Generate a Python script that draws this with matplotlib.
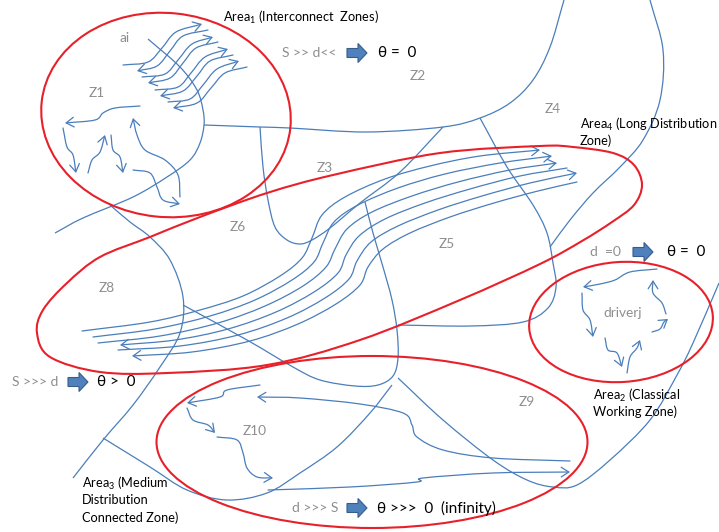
from matplotlib import pyplot as plt
from matplotlib.path import Path
from matplotlib.patches import PathPatch, FancyArrowPatch, Ellipse, FancyArrow
import numpy as np

# =============================================================================
# Diagram data (pixel coordinates of the 719x532 picture, y downwards)
# =============================================================================
BLUE = '#4a7ebb'
RED = '#e8202a'
GREY = '#8e8e8e'

# red zone outlines: centre, width, height, angle
ellipses = {
    'area1': ((166, 115), 250, 204, 6),
    'area2': ((621, 322), 184, 120, -4),
    'area3': ((372, 442), 431, 172, 0),
}
area4_outline = [(37, 333), (43, 310), (67, 283), (100, 257), (150, 237), (200, 217),
                 (267, 193), (333, 175), (440, 153), (540, 146), (573, 147), (613, 153),
                 (634, 165), (642, 185), (634, 205), (612, 222), (582, 241), (540, 264),
                 (460, 300), (360, 340), (267, 365), (167, 373), (100, 372), (50, 357)]

# zone borders (no arrow heads)
borders = [
    [(148, 39), (180, 67), (197, 90), (203, 110), (204, 125), (200, 143), (190, 160),
     (167, 177), (133, 197), (83, 218), (55, 233)],
    [(204, 125), (260, 127), (290, 128), (367, 132), (443, 127), (480, 118), (510, 103),
     (533, 80), (550, 47), (564, 0)],
    [(260, 127), (263, 167), (268, 200), (275, 227), (287, 240), (300, 244), (312, 240),
     (330, 228), (360, 203), (400, 172), (443, 127)],
    [(365, 202), (373, 233), (383, 267), (392, 300), (397, 330), (398, 358), (393, 376),
     (378, 385), (355, 386), (320, 380), (293, 367), (247, 340), (183, 305)],
    [(480, 118), (507, 167), (533, 205), (547, 233), (553, 263), (556, 287), (548, 308),
     (523, 322), (470, 326), (398, 325)],
    [(650, 0), (663, 50), (660, 100), (643, 140), (620, 167), (593, 193), (570, 220),
     (550, 247)],
    [(398, 378), (443, 420), (493, 460), (527, 480), (553, 487), (577, 485), (610, 460),
     (650, 420), (677, 375), (693, 343), (719, 283)],
    [(392, 385), (370, 413), (337, 447), (300, 473), (267, 493), (227, 500), (187, 490),
     (150, 467), (103, 438)],
    [(110, 205), (130, 222), (150, 237), (170, 260), (183, 297), (180, 333), (160, 367),
     (133, 405), (103, 440), (73, 478)],
]

# flow bundle through Area4 (left to right)
bundle = [
    [(82, 331), (150, 322), (200, 310), (243, 296), (280, 276), (302, 258), (312, 238),
     (322, 215), (345, 197), (385, 179), (430, 166), (480, 156), (540, 150)],
    [(93, 337), (155, 329), (210, 316), (255, 300), (292, 280), (314, 262), (323, 243),
     (334, 222), (358, 205), (398, 188), (445, 174), (500, 163), (552, 156)],
    [(98, 343), (160, 336), (218, 323), (265, 306), (303, 286), (326, 267), (335, 249),
     (347, 229), (372, 212), (412, 196), (458, 182), (510, 170), (557, 163)],
    [(120, 345), (175, 340), (228, 329), (276, 312), (314, 292), (338, 273), (346, 255),
     (359, 236), (385, 219), (425, 203), (470, 189), (520, 176), (567, 168)],
    [(118, 350), (180, 346), (238, 335), (287, 318), (325, 298), (349, 279), (357, 261),
     (371, 242), (398, 226), (438, 210), (482, 196), (530, 183), (577, 173)],
    [(132, 356), (192, 352), (250, 341), (298, 324), (336, 304), (360, 285), (368, 267),
     (383, 249), (410, 233), (450, 217), (494, 203), (538, 191), (577, 182)],
]
bundle_left_arrow = [False, False, False, True, False, True]
bundle_right_arrow = [True, True, True, False, True, False]

# small flow arrows (arrow head at the last point)
flows = [
    # Area1 waves
    [(123, 65), (148, 62), (162, 48), (176, 32), (202, 24)],
    [(208, 30), (183, 36), (170, 51), (157, 66), (137, 71)],
    [(142, 77), (165, 74), (178, 60), (192, 44), (213, 37)],
    [(218, 42), (196, 48), (183, 63), (170, 78), (148, 83)],
    [(155, 90), (178, 87), (191, 73), (205, 57), (228, 49)],
    [(233, 55), (210, 61), (197, 76), (183, 91), (160, 96)],
    [(168, 102), (190, 99), (203, 85), (217, 69), (239, 61)],
    [(247, 67), (225, 73), (211, 88), (197, 103), (173, 108)],
    # Area1 loop
    [(140, 106), (115, 108), (103, 113), (95, 120), (65, 123)],
    [(63, 128), (67, 147), (73, 155), (76, 173)],
    [(88, 173), (92, 160), (100, 152), (105, 135)],
    [(111, 135), (113, 150), (120, 157), (123, 173)],
    [(180, 197), (178, 175), (165, 160), (145, 150), (137, 135), (133, 118)],
    [(133, 170), (150, 173), (157, 187), (163, 200), (180, 204)],
    # Area2 loop
    [(657, 269), (630, 272), (615, 280), (600, 284), (583, 287)],
    [(582, 293), (583, 310), (590, 320), (593, 337)],
    [(605, 338), (608, 350), (617, 353), (622, 367)],
    [(627, 373), (630, 357), (637, 348), (640, 340)],
    [(652, 332), (660, 329), (664, 322), (668, 319)],
    [(666, 314), (662, 303), (653, 293), (653, 280)],
    # Area3 loop
    [(260, 385), (227, 390), (220, 397), (187, 403)],
    [(187, 408), (193, 420), (208, 425), (215, 433)],
    [(217, 437), (237, 440), (243, 453), (247, 468), (257, 477), (273, 478)],
    [(570, 461), (493, 458), (443, 450), (417, 437), (412, 425), (403, 413), (360, 404),
     (300, 398), (257, 397)],
    [(268, 490), (350, 487), (417, 482), (423, 478), (493, 473), (570, 472)],
]

# texts
area_texts = [(223, 17, 'Area$_1$ (Interconnect  Zones)'),
              (580, 124, 'Area$_4$ (Long Distribution'), (580, 141, 'Zone)'),
              (593, 395, 'Area$_2$ (Classical'), (593, 412, 'Working Zone)'),
              (82, 483, 'Area$_3$ (Medium'), (82, 500, 'Distribution'),
              (82, 518, 'Connected Zone)')]
zone_labels = [(97, 93, 'Z1'), (125, 38, 'ai'), (418, 76, 'Z2'), (325, 168, 'Z3'),
               (553, 109, 'Z4'), (447, 244, 'Z5'), (238, 227, 'Z6'), (107, 288, 'Z8'),
               (527, 402, 'Z9'), (255, 431, 'Z10'), (623, 313, 'driverj')]
# condition, arrow x, theta result
rules = [(282, 53, 'S >> d<<', 347, 378, 'θ =  0'),
         (590, 252, 'd  =0', 633, 667, 'θ =  0'),
         (12, 382, 'S >>> d', 68, 97, 'θ >  0'),
         (292, 508, 'd >>> S', 347, 377, 'θ >>>  0  (infinity)')]


# =============================================================================
# helpers
# =============================================================================
def bezier_path(pts, closed=False):
    # smooth path through the points (Catmull-Rom written as cubic beziers)
    p = np.asarray(pts, float)
    if closed:
        q = np.vstack([p[-1], p, p[0], p[1]])
    else:
        q = np.vstack([2 * p[0] - p[1], p, 2 * p[-1] - p[-2]])
    verts = [q[1]]
    codes = [Path.MOVETO]
    for i in range(1, len(q) - 2):
        p0, p1, p2, p3 = q[i - 1], q[i], q[i + 1], q[i + 2]
        verts += [p1 + (p2 - p0) / 6, p2 - (p3 - p1) / 6, p2]
        codes += [Path.CURVE4] * 3
    return Path(verts, codes)


def draw_curve(ax, pts, arrow_end=False, arrow_start=False, color=BLUE, lw=0.9):
    path = bezier_path(pts)
    if arrow_end or arrow_start:
        style = ('<' if arrow_start else '') + '-' + ('>' if arrow_end else '')
        patch = FancyArrowPatch(path=path, arrowstyle=style + ',head_length=0.55,head_width=0.35',
                                mutation_scale=10, color=color, lw=lw)
    else:
        patch = PathPatch(path, fill=False, ec=color, lw=lw)
    ax.add_patch(patch)


def block_arrow(ax, x, y):
    ax.add_patch(FancyArrow(x, y, 20, 0, width=9, head_width=19, head_length=9,
                            length_includes_head=True, fc='#4f81bd', ec='#385d8a', lw=0.8))


# =============================================================================
# Figure
# =============================================================================
plt.rcParams['mathtext.fontset'] = 'custom'
plt.rcParams['mathtext.rm'] = 'Lato'
plt.rcParams['mathtext.it'] = 'Lato'
fams = ['Lato', 'DejaVu Sans']

fig = plt.figure(figsize=[7.19, 5.32], dpi=100)
ax = fig.add_axes([0, 0, 1, 1])
ax.set_xlim(0, 719)
ax.set_ylim(532, 0)
ax.axis('off')

for line in borders:
    draw_curve(ax, line)
for i, line in enumerate(bundle):
    draw_curve(ax, line, arrow_end=bundle_right_arrow[i], arrow_start=bundle_left_arrow[i])
for line in flows:
    draw_curve(ax, line, arrow_end=True)

for c, w, h, a in ellipses.values():
    ax.add_patch(Ellipse(c, w, h, angle=a, fill=False, ec=RED, lw=1.5))
ax.add_patch(PathPatch(bezier_path(area4_outline, closed=True), fill=False, ec=RED, lw=1.5))

for x, y, s in area_texts:
    ax.text(x, y, s, family=fams, fontsize=9.2, ha='left', va='center', color='black')
for x, y, s in zone_labels:
    ax.text(x, y, s, family=fams, fontsize=9.8, ha='center', va='center', color=GREY)
for x, y, cond, xa, xt, res in rules:
    ax.text(x, y, cond, family=fams, fontsize=10, ha='left', va='center', color=GREY)
    block_arrow(ax, xa, y)
    ax.text(xt, y, res, family=fams, fontsize=11, ha='left', va='center', color='black')

plt.savefig('out.png')
